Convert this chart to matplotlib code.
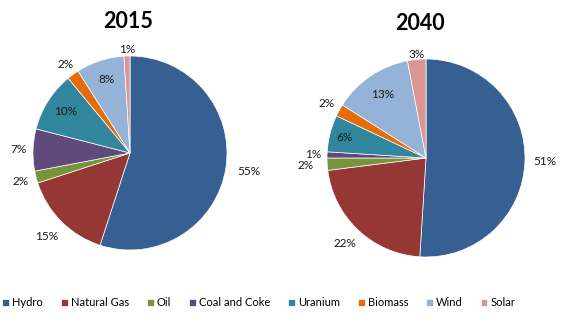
import matplotlib
matplotlib.use("Agg")
import matplotlib.pyplot as plt
import numpy as np

plt.rcParams['font.family'] = ['Lato', 'DejaVu Sans']

# data
sources = ["Hydro", "Natural Gas", "Oil", "Coal and Coke", "Uranium", "Biomass", "Wind", "Solar"]
share2015 = [55, 15, 2, 7, 10, 2, 8, 1]
share2040 = [51, 22, 2, 1, 6, 2, 13, 3]

colors = ["#376092", "#953735", "#77933C", "#604A7B", "#31859C", "#E46C0A", "#95B3D7", "#D99694"]

# label distance from centre (in radii), per slice
dist2015 = [1.24, 1.22, 1.17, 1.15, 0.79, 1.13, 0.80, 1.07]
dist2040 = [1.20, 1.19, 1.22, 1.14, 0.85, 1.15, 0.78, 1.05]

W, H = 580, 325
fig = plt.figure(figsize=(W / 100, H / 100), dpi=100)

def drawPie(values, dists, cx, cy, r, title, tx, ty):
    half = 1.4
    size = 2 * half * r
    ax = fig.add_axes([(cx - size / 2) / W, 1 - (cy + size / 2) / H, size / W, size / H])
    wedges, _ = ax.pie(values, colors=colors, startangle=90, counterclock=False,
                       wedgeprops=dict(edgecolor="white", linewidth=0.5))
    ax.set_xlim(-half, half)
    ax.set_ylim(-half, half)
    ax.axis("off")
    for w, v, d in zip(wedges, values, dists):
        ang = np.deg2rad((w.theta1 + w.theta2) / 2)
        ax.text(d * np.cos(ang), d * np.sin(ang), str(v) + "%", ha="center", va="center",
                fontsize=8.5, color="#1a1a1a")
    fig.text(tx / W, 1 - ty / H, title, ha="center", va="center", fontsize=15.5, fontweight="bold")
    return wedges

wedges = drawPie(share2015, dist2015, 130, 153, 97, "2015", 128, 22)
drawPie(share2040, dist2040, 426, 158, 99, "2040", 420, 23)

fig.legend(wedges, sources, loc="center", bbox_to_anchor=(259 / W, 1 - 303 / H), ncol=8,
           frameon=False, fontsize=8, handlelength=0.6, handleheight=0.6, handletextpad=0.3,
           columnspacing=1.6)

fig.savefig("out.png", dpi=100)
